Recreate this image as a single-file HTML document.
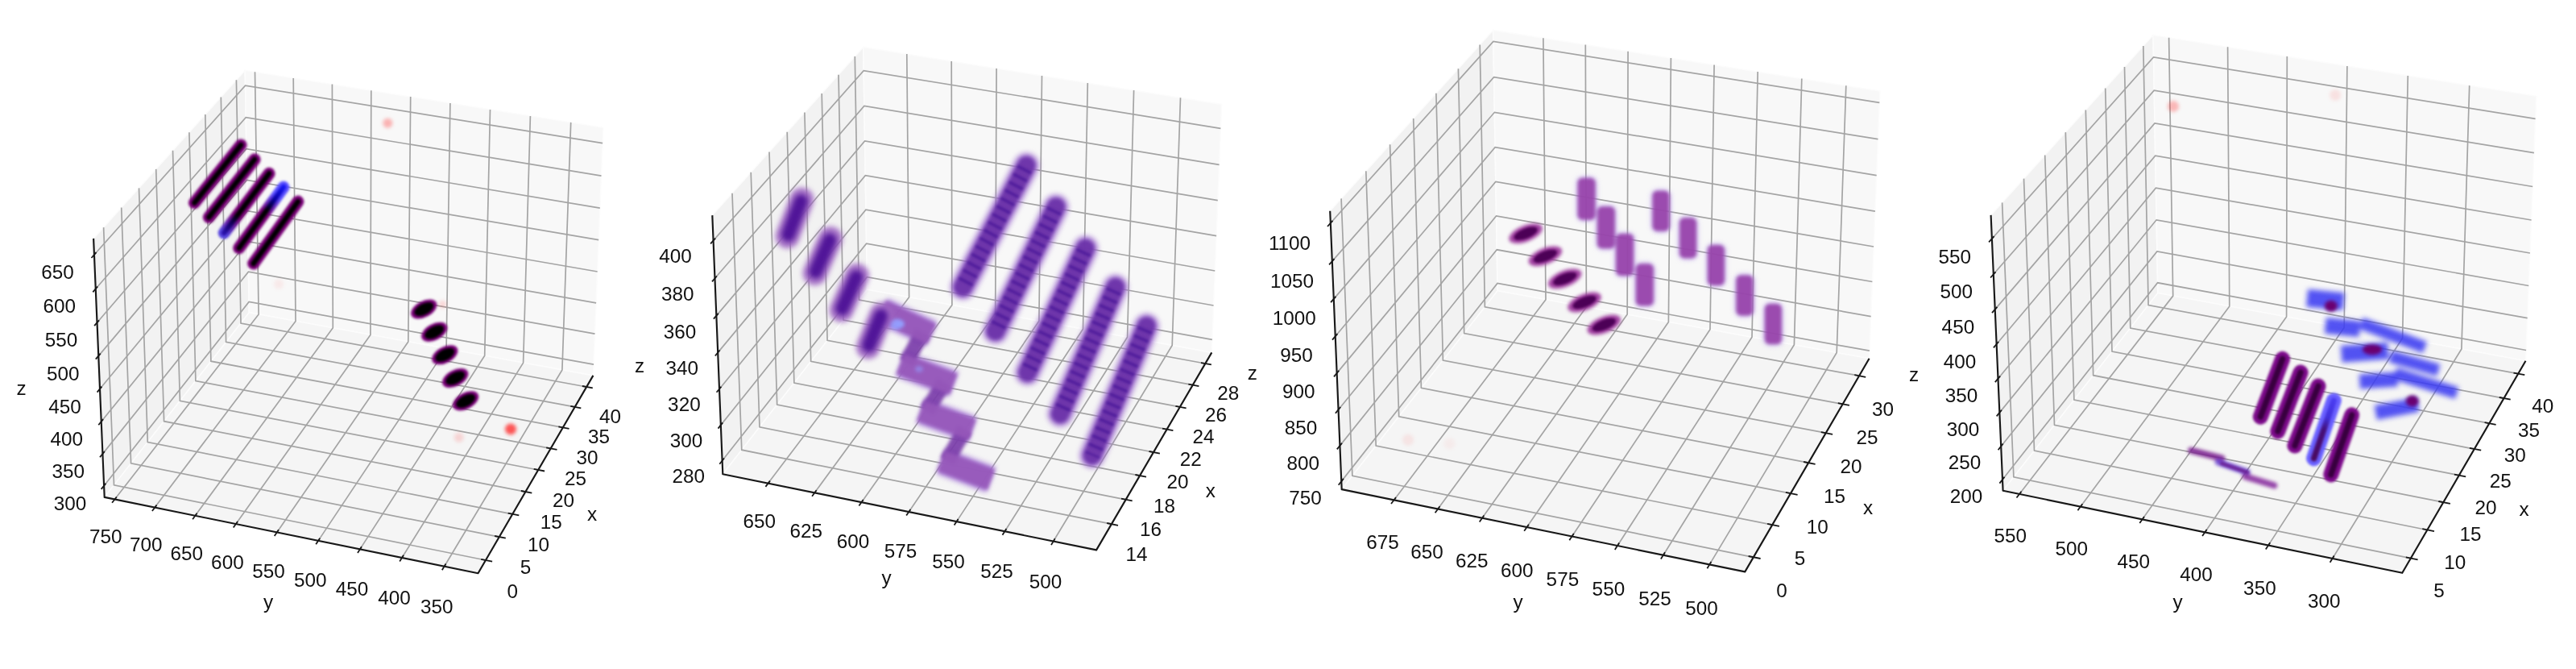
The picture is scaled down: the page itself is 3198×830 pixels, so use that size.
<!DOCTYPE html>
<html><head><meta charset="utf-8"><title>3D scatter panels</title>
<style>
html,body{margin:0;padding:0;background:#fff;}
svg{display:block}
text{font-family:"Liberation Sans",sans-serif;font-size:24.8px;fill:#111;text-anchor:middle}
.g{fill:none;stroke:#a4a4a4;stroke-width:1.7}
.a{fill:none;stroke:#181818;stroke-width:2.15;stroke-linejoin:round}
.t{stroke:#181818;stroke-width:1.8}
</style></head><body>
<svg width="3198" height="830" viewBox="0 0 3198 830">
<defs>
<filter id="b0" color-interpolation-filters="sRGB" x="-5%" y="-5%" width="110%" height="110%"><feGaussianBlur stdDeviation="0.7"/></filter>
<filter id="ba" color-interpolation-filters="sRGB" x="-5%" y="-5%" width="110%" height="110%"><feGaussianBlur stdDeviation="0.6"/></filter>
<filter id="bt" color-interpolation-filters="sRGB" x="-5%" y="-5%" width="110%" height="110%"><feGaussianBlur stdDeviation="0.7"/></filter>
<filter id="b1" color-interpolation-filters="sRGB" x="-5%" y="-5%" width="110%" height="110%"><feGaussianBlur stdDeviation="1.4"/></filter>
<filter id="b15" color-interpolation-filters="sRGB" x="-5%" y="-5%" width="110%" height="110%"><feGaussianBlur stdDeviation="1.7"/></filter>
<filter id="b2" color-interpolation-filters="sRGB" x="-5%" y="-5%" width="110%" height="110%"><feGaussianBlur stdDeviation="2.2"/></filter>
<filter id="b3" color-interpolation-filters="sRGB" x="-5%" y="-5%" width="110%" height="110%"><feGaussianBlur stdDeviation="3.4"/></filter>

<linearGradient id="g3" gradientUnits="userSpaceOnUse" x1="278.2" y1="289" x2="334.1" y2="215.2"><stop offset="0" stop-color="#2810a8"/><stop offset="0.16" stop-color="#14005e"/><stop offset="0.3" stop-color="#000"/></linearGradient>
<linearGradient id="g3h" gradientUnits="userSpaceOnUse" x1="278.2" y1="289" x2="334.1" y2="215.2"><stop offset="0" stop-color="#5a48e0"/><stop offset="0.28" stop-color="#7a0078"/></linearGradient>
<linearGradient id="g4" gradientUnits="userSpaceOnUse" x1="296.7" y1="307.8" x2="352" y2="232.2"><stop offset="0.62" stop-color="#000"/><stop offset="0.8" stop-color="#0800a0"/><stop offset="1" stop-color="#1616f0"/></linearGradient>
<linearGradient id="g4h" gradientUnits="userSpaceOnUse" x1="296.7" y1="307.8" x2="352" y2="232.2"><stop offset="0.58" stop-color="#7a0078"/><stop offset="0.85" stop-color="#5a50ff"/></linearGradient>
<linearGradient id="p4s4" gradientUnits="userSpaceOnUse" x1="2897.3" y1="497" x2="2872.6" y2="568.7"><stop offset="0" stop-color="#4a3cf0"/><stop offset="0.3" stop-color="#4030d8"/><stop offset="0.5" stop-color="#45107a"/><stop offset="1" stop-color="#4a0a60"/></linearGradient>

</defs>
<rect width="3198" height="830" fill="#fff"/>
<g filter="url(#b0)">
<polygon points="129.7,616.9 309.3,387.8 304.2,87.3 116.1,295.9" fill="#f2f2f2" stroke="#fcfcfc" stroke-width="1.5"/>
<polygon points="309.3,387.8 736.4,465.9 748.9,158.3 304.2,87.3" fill="#f8f8f8" stroke="#fcfcfc" stroke-width="1.5"/>
<polygon points="129.7,616.9 593.5,711.2 736.4,465.9 309.3,387.8" fill="#f5f5f5" stroke="#fcfcfc" stroke-width="1.5"/>
<polyline class="g" points="602.9,695.0 141.5,601.9 128.6,282.1"/>
<polyline class="g" points="619.8,666.1 162.6,574.9 150.7,257.5"/>
<polyline class="g" points="636.3,637.8 183.3,548.5 172.5,233.4"/>
<polyline class="g" points="652.4,610.1 203.6,522.7 193.7,209.9"/>
<polyline class="g" points="668.2,583.0 223.4,497.3 214.5,186.8"/>
<polyline class="g" points="683.7,556.4 242.9,472.5 234.9,164.2"/>
<polyline class="g" points="698.9,530.4 261.9,448.2 254.8,142.1"/>
<polyline class="g" points="713.7,504.9 280.6,424.4 274.3,120.5"/>
<polyline class="g" points="728.3,480.0 299.0,401.0 293.4,99.2"/>
<polyline class="g" points="551.6,702.7 697.9,458.9 708.7,151.9"/>
<polyline class="g" points="499.0,692.0 649.6,450.1 658.4,143.9"/>
<polyline class="g" points="446.9,681.4 601.7,441.3 608.5,135.9"/>
<polyline class="g" points="395.1,670.9 554.1,432.6 558.9,128.0"/>
<polyline class="g" points="343.8,660.5 506.8,423.9 509.7,120.1"/>
<polyline class="g" points="292.9,650.1 459.9,415.4 460.8,112.3"/>
<polyline class="g" points="242.3,639.8 413.3,406.8 412.4,104.6"/>
<polyline class="g" points="192.2,629.6 367.0,398.4 364.2,96.9"/>
<polyline class="g" points="142.4,619.5 321.1,390.0 316.5,89.3"/>
<polyline class="g" points="129.1,602.7 309.1,374.4 737.0,452.2"/>
<polyline class="g" points="127.4,563.1 308.4,337.2 738.5,414.2"/>
<polyline class="g" points="125.7,523.0 307.8,299.7 740.1,375.8"/>
<polyline class="g" points="124.0,482.5 307.1,261.7 741.7,337.0"/>
<polyline class="g" points="122.3,441.6 306.5,223.4 743.2,297.7"/>
<polyline class="g" points="120.5,400.2 305.8,184.7 744.8,258.1"/>
<polyline class="g" points="118.8,358.3 305.2,145.6 746.5,218.1"/>
<polyline class="g" points="117.0,316.0 304.5,106.1 748.1,177.6"/>
</g>
<g filter="url(#b0)">
<polygon points="897.3,588.2 1076.5,359.3 1071.7,58.5 884.3,267.1" fill="#f2f2f2" stroke="#fcfcfc" stroke-width="1.5"/>
<polygon points="1076.5,359.3 1504.3,437.4 1516.6,129.5 1071.7,58.5" fill="#f8f8f8" stroke="#fcfcfc" stroke-width="1.5"/>
<polygon points="897.3,588.2 1361.1,682.4 1504.3,437.4 1076.5,359.3" fill="#f5f5f5" stroke="#fcfcfc" stroke-width="1.5"/>
<polyline class="g" points="1379.9,650.2 920.8,558.2 909.0,239.7"/>
<polyline class="g" points="1397.7,619.8 943.0,529.9 932.2,213.8"/>
<polyline class="g" points="1415.0,590.1 964.7,502.1 955.0,188.5"/>
<polyline class="g" points="1432.0,561.0 985.9,475.0 977.2,163.8"/>
<polyline class="g" points="1448.6,532.6 1006.7,448.4 998.9,139.6"/>
<polyline class="g" points="1464.9,504.8 1027.1,422.4 1020.2,115.9"/>
<polyline class="g" points="1480.8,477.7 1047.0,397.0 1041.0,92.7"/>
<polyline class="g" points="1496.3,451.0 1066.5,372.0 1061.3,70.1"/>
<polyline class="g" points="1307.7,671.5 1455.2,428.5 1465.5,121.3"/>
<polyline class="g" points="1247.4,659.3 1399.6,418.3 1407.6,112.1"/>
<polyline class="g" points="1187.5,647.1 1344.5,408.2 1350.3,103.0"/>
<polyline class="g" points="1128.3,635.1 1289.9,398.3 1293.5,93.9"/>
<polyline class="g" points="1069.5,623.2 1235.7,388.4 1237.1,84.9"/>
<polyline class="g" points="1011.3,611.3 1181.9,378.5 1181.2,76.0"/>
<polyline class="g" points="953.6,599.6 1128.6,368.8 1125.8,67.1"/>
<polyline class="g" points="896.6,571.5 1076.3,343.6 1504.9,421.4"/>
<polyline class="g" points="894.8,527.4 1075.6,302.1 1506.6,379.0"/>
<polyline class="g" points="893.0,482.7 1074.9,260.1 1508.3,336.0"/>
<polyline class="g" points="891.2,437.4 1074.3,217.7 1510.1,292.6"/>
<polyline class="g" points="889.4,391.6 1073.6,174.9 1511.8,248.7"/>
<polyline class="g" points="887.5,345.3 1072.9,131.5 1513.6,204.3"/>
<polyline class="g" points="885.6,298.4 1072.2,87.7 1515.4,159.4"/>
</g>
<g filter="url(#b0)">
<polygon points="1665.7,607.1 1859.1,360.8 1853.6,37.4 1651.2,261.7" fill="#f2f2f2" stroke="#fcfcfc" stroke-width="1.5"/>
<polygon points="1859.1,360.8 2320.6,444.8 2333.9,112.9 1853.6,37.4" fill="#f8f8f8" stroke="#fcfcfc" stroke-width="1.5"/>
<polygon points="1665.7,607.1 2166.3,709.4 2320.6,444.8 1859.1,360.8" fill="#f5f5f5" stroke="#fcfcfc" stroke-width="1.5"/>
<polyline class="g" points="2176.8,691.3 1678.9,590.4 1665.1,246.4"/>
<polyline class="g" points="2200.2,651.1 1708.2,553.1 1695.8,212.3"/>
<polyline class="g" points="2223.0,612.1 1736.7,516.8 1725.6,179.2"/>
<polyline class="g" points="2245.1,574.1 1764.4,481.4 1754.7,147.0"/>
<polyline class="g" points="2266.7,537.2 1791.4,447.0 1782.9,115.7"/>
<polyline class="g" points="2287.6,501.3 1817.7,413.5 1810.4,85.2"/>
<polyline class="g" points="2308.1,466.2 1843.4,380.8 1837.2,55.6"/>
<polyline class="g" points="2122.3,700.4 2280.2,437.5 2291.8,106.3"/>
<polyline class="g" points="2064.9,688.7 2227.4,427.8 2236.8,97.6"/>
<polyline class="g" points="2008.0,677.0 2175.0,418.3 2182.2,89.1"/>
<polyline class="g" points="1951.5,665.5 2123.0,408.8 2128.1,80.5"/>
<polyline class="g" points="1895.5,654.1 2071.4,399.4 2074.4,72.1"/>
<polyline class="g" points="1840.0,642.7 2020.2,390.1 2021.1,63.7"/>
<polyline class="g" points="1785.0,631.5 1969.4,380.9 1968.3,55.4"/>
<polyline class="g" points="1730.5,620.4 1919.0,371.7 1915.9,47.2"/>
<polyline class="g" points="1665.3,597.1 1859.0,351.4 2320.9,435.2"/>
<polyline class="g" points="1663.5,552.9 1858.3,309.8 2322.7,392.6"/>
<polyline class="g" points="1661.6,508.2 1857.5,267.9 2324.4,349.5"/>
<polyline class="g" points="1659.7,462.9 1856.8,225.5 2326.1,306.0"/>
<polyline class="g" points="1657.7,417.2 1856.1,182.6 2327.9,262.1"/>
<polyline class="g" points="1655.8,370.9 1855.4,139.3 2329.7,217.6"/>
<polyline class="g" points="1653.8,324.1 1854.6,95.6 2331.5,172.7"/>
<polyline class="g" points="1651.8,276.7 1853.9,51.4 2333.3,127.3"/>
</g>
<g filter="url(#b0)">
<polygon points="2486.6,608.7 2678.8,363.6 2673.0,43.6 2471.6,266.9" fill="#f2f2f2" stroke="#fcfcfc" stroke-width="1.5"/>
<polygon points="2678.8,363.6 3135.5,447.7 3148.8,119.3 2673.0,43.6" fill="#f8f8f8" stroke="#fcfcfc" stroke-width="1.5"/>
<polygon points="2486.6,608.7 2982.3,710.8 3135.5,447.7 2678.8,363.6" fill="#f5f5f5" stroke="#fcfcfc" stroke-width="1.5"/>
<polyline class="g" points="2992.9,692.6 2499.9,591.8 2485.6,251.4"/>
<polyline class="g" points="3013.4,657.5 2525.5,559.1 2512.5,221.6"/>
<polyline class="g" points="3033.3,623.2 2550.5,527.3 2538.7,192.5"/>
<polyline class="g" points="3052.8,589.7 2574.9,496.1 2564.3,164.1"/>
<polyline class="g" points="3071.8,557.1 2598.7,465.7 2589.3,136.4"/>
<polyline class="g" points="3090.4,525.2 2622.0,436.0 2613.7,109.4"/>
<polyline class="g" points="3108.5,494.1 2644.8,407.0 2637.5,82.9"/>
<polyline class="g" points="3126.2,463.6 2667.1,378.6 2660.8,57.1"/>
<polyline class="g" points="2895.6,693.0 3055.9,433.0 3065.7,106.1"/>
<polyline class="g" points="2816.0,676.6 2982.6,419.5 2989.3,93.9"/>
<polyline class="g" points="2737.3,660.4 2910.2,406.2 2913.9,81.9"/>
<polyline class="g" points="2659.6,644.3 2838.6,393.0 2839.3,70.1"/>
<polyline class="g" points="2582.9,628.5 2767.8,380.0 2765.6,58.3"/>
<polyline class="g" points="2507.0,612.9 2697.7,367.1 2692.6,46.7"/>
<polyline class="g" points="2486.0,595.0 2678.6,350.8 3136.1,434.5"/>
<polyline class="g" points="2484.2,553.7 2677.9,312.0 3137.7,394.7"/>
<polyline class="g" points="2482.4,511.9 2677.1,272.8 3139.3,354.5"/>
<polyline class="g" points="2480.5,469.7 2676.4,233.2 3140.9,314.0"/>
<polyline class="g" points="2478.6,427.0 2675.7,193.2 3142.6,273.0"/>
<polyline class="g" points="2476.7,383.9 2675.0,152.9 3144.2,231.5"/>
<polyline class="g" points="2474.8,340.3 2674.2,112.1 3145.9,189.7"/>
<polyline class="g" points="2472.9,296.2 2673.5,70.9 3147.6,147.4"/>
</g>
<g><g filter="url(#b15)"><rect x="200" y="140" width="220" height="230" fill="none"/><line x1="241.4" y1="251.6" x2="299.1" y2="179.9" stroke="#7a0078" stroke-width="15" stroke-linecap="round" opacity="1" /><line x1="259.3" y1="269.6" x2="316.1" y2="197.8" stroke="#7a0078" stroke-width="15" stroke-linecap="round" opacity="1" /><line x1="278.2" y1="289.0" x2="334.1" y2="215.2" stroke="url(#g3h)" stroke-width="15" stroke-linecap="round" opacity="1" /><line x1="296.7" y1="307.8" x2="352.0" y2="232.2" stroke="url(#g4h)" stroke-width="15" stroke-linecap="round" opacity="1" /><line x1="314.6" y1="327.0" x2="369.9" y2="250.1" stroke="#7a0078" stroke-width="15" stroke-linecap="round" opacity="1" /></g>
<g filter="url(#b1)"><rect x="200" y="140" width="220" height="230" fill="none"/><line x1="241.4" y1="251.6" x2="299.1" y2="179.9" stroke="#000" stroke-width="6.5" stroke-linecap="round" opacity="1" /><line x1="259.3" y1="269.6" x2="316.1" y2="197.8" stroke="#000" stroke-width="6.5" stroke-linecap="round" opacity="1" /><line x1="278.2" y1="289.0" x2="334.1" y2="215.2" stroke="url(#g3)" stroke-width="6.5" stroke-linecap="round" opacity="1" /><line x1="296.7" y1="307.8" x2="352.0" y2="232.2" stroke="url(#g4)" stroke-width="6.5" stroke-linecap="round" opacity="1" /><line x1="314.6" y1="327.0" x2="369.9" y2="250.1" stroke="#000" stroke-width="6.5" stroke-linecap="round" opacity="1" /></g>
<g filter="url(#b15)"><rect x="480" y="340" width="150" height="210" fill="none"/><ellipse cx="526.3" cy="383.5" rx="17.5" ry="10.0" transform="rotate(-28 526.3 383.5)" fill="#7a0078" opacity="1"/><ellipse cx="539.2" cy="411.9" rx="17.5" ry="10.0" transform="rotate(-28 539.2 411.9)" fill="#7a0078" opacity="1"/><ellipse cx="552.3" cy="440.3" rx="17.5" ry="10.0" transform="rotate(-28 552.3 440.3)" fill="#7a0078" opacity="1"/><ellipse cx="565.2" cy="469.0" rx="17.5" ry="10.0" transform="rotate(-28 565.2 469.0)" fill="#7a0078" opacity="1"/><ellipse cx="578.1" cy="497.4" rx="17.5" ry="10.0" transform="rotate(-28 578.1 497.4)" fill="#7a0078" opacity="1"/></g>
<g filter="url(#b1)"><rect x="480" y="340" width="150" height="210" fill="none"/><ellipse cx="526.3" cy="383.5" rx="13.0" ry="6.8" transform="rotate(-28 526.3 383.5)" fill="#000" opacity="1"/><ellipse cx="539.2" cy="411.9" rx="13.0" ry="6.8" transform="rotate(-28 539.2 411.9)" fill="#000" opacity="1"/><ellipse cx="552.3" cy="440.3" rx="13.0" ry="6.8" transform="rotate(-28 552.3 440.3)" fill="#000" opacity="1"/><ellipse cx="565.2" cy="469.0" rx="13.0" ry="6.8" transform="rotate(-28 565.2 469.0)" fill="#000" opacity="1"/><ellipse cx="578.1" cy="497.4" rx="13.0" ry="6.8" transform="rotate(-28 578.1 497.4)" fill="#000" opacity="1"/></g>
<g filter="url(#b2)"><rect x="300" y="100" width="400" height="500" fill="none"/><circle cx="634" cy="532.4" r="7" fill="#ff2020" opacity="0.75"/><circle cx="569.7" cy="542.8" r="6" fill="#ff4040" opacity="0.18"/><circle cx="549.4" cy="377.8" r="5" fill="#ff4040" opacity="0.18"/><circle cx="481.3" cy="152.7" r="6" fill="#ff3030" opacity="0.35"/><circle cx="346" cy="352.6" r="6" fill="#ff4040" opacity="0.08"/></g>
<g filter="url(#b3)"><rect x="1050" y="340" width="230" height="310" fill="none"/><line x1="1094.4" y1="385.3" x2="1156.6" y2="414.4" stroke="#ab80da" stroke-width="34" stroke-linecap="butt" opacity="0.9" /><line x1="1117.7" y1="451.3" x2="1183.8" y2="476.6" stroke="#ab80da" stroke-width="34" stroke-linecap="butt" opacity="0.9" /><line x1="1143.0" y1="509.6" x2="1207.1" y2="532.9" stroke="#ab80da" stroke-width="34" stroke-linecap="butt" opacity="0.9" /><line x1="1168.3" y1="571.8" x2="1230.4" y2="595.1" stroke="#ab80da" stroke-width="34" stroke-linecap="butt" opacity="0.9" /></g>
<g filter="url(#b2)"><rect x="1050" y="340" width="230" height="310" fill="none"/><line x1="1145.0" y1="412.3" x2="1125.4" y2="449.6" stroke="#7a3caa" stroke-width="19" stroke-linecap="butt" opacity="0.92" /><line x1="1172.2" y1="474.5" x2="1150.7" y2="509.8" stroke="#7a3caa" stroke-width="19" stroke-linecap="butt" opacity="0.92" /><line x1="1197.5" y1="532.8" x2="1176.0" y2="572.0" stroke="#7a3caa" stroke-width="19" stroke-linecap="butt" opacity="0.92" /></g>
<g filter="url(#b2)"><rect x="1050" y="340" width="230" height="310" fill="none"/><line x1="1094.4" y1="385.3" x2="1156.6" y2="414.4" stroke="#9658ba" stroke-width="27" stroke-linecap="butt" opacity="0.93" /><line x1="1117.7" y1="451.3" x2="1183.8" y2="476.6" stroke="#9658ba" stroke-width="27" stroke-linecap="butt" opacity="0.93" /><line x1="1143.0" y1="509.6" x2="1207.1" y2="532.9" stroke="#9658ba" stroke-width="27" stroke-linecap="butt" opacity="0.93" /><line x1="1168.3" y1="571.8" x2="1230.4" y2="595.1" stroke="#9658ba" stroke-width="27" stroke-linecap="butt" opacity="0.93" /><ellipse cx="1113" cy="402" rx="10" ry="6.5" fill="#93a0ff" opacity="0.95"/><ellipse cx="1141" cy="458" rx="5" ry="4" fill="#93a0ff" opacity="0.55"/></g>
<g filter="url(#b3)"><rect x="940" y="200" width="200" height="280" fill="none"/><line x1="977.6" y1="293.3" x2="995.4" y2="247.8" stroke="#a068c4" stroke-width="30" stroke-linecap="round" opacity="0.9" /><line x1="1011.6" y1="339.0" x2="1031.0" y2="296.0" stroke="#a068c4" stroke-width="30" stroke-linecap="round" opacity="0.9" /><line x1="1044.6" y1="384.7" x2="1064.0" y2="341.8" stroke="#a068c4" stroke-width="30" stroke-linecap="round" opacity="0.9" /><line x1="1077.7" y1="430.5" x2="1094.5" y2="390.0" stroke="#a068c4" stroke-width="30" stroke-linecap="round" opacity="0.9" /></g>
<g filter="url(#b3)"><rect x="940" y="200" width="200" height="280" fill="none"/><line x1="978.6" y1="291.3" x2="994.4" y2="249.8" stroke="#4c1096" stroke-width="17" stroke-linecap="round" opacity="0.95" /><line x1="1012.6" y1="337.0" x2="1030.0" y2="298.0" stroke="#4c1096" stroke-width="17" stroke-linecap="round" opacity="0.95" /><line x1="1045.6" y1="382.7" x2="1063.0" y2="343.8" stroke="#4c1096" stroke-width="17" stroke-linecap="round" opacity="0.95" /><line x1="1078.7" y1="428.5" x2="1093.5" y2="392.0" stroke="#4c1096" stroke-width="17" stroke-linecap="round" opacity="0.95" /></g>
<g filter="url(#b3)"><rect x="1160" y="160" width="310" height="450" fill="none"/><line x1="1274.3" y1="205.3" x2="1195.3" y2="356.3" stroke="#a070d0" stroke-width="31" stroke-linecap="round" opacity="0.85" /><line x1="1311.0" y1="256.7" x2="1235.8" y2="410.9" stroke="#a070d0" stroke-width="31" stroke-linecap="round" opacity="0.85" /><line x1="1347.6" y1="308.1" x2="1275.6" y2="462.3" stroke="#a070d0" stroke-width="31" stroke-linecap="round" opacity="0.85" /><line x1="1384.8" y1="356.3" x2="1316.1" y2="513.7" stroke="#a070d0" stroke-width="31" stroke-linecap="round" opacity="0.85" /><line x1="1423.4" y1="404.5" x2="1355.9" y2="565.1" stroke="#a070d0" stroke-width="31" stroke-linecap="round" opacity="0.85" /></g>
<g filter="url(#b2)"><rect x="1160" y="160" width="310" height="450" fill="none"/><line x1="1274.3" y1="205.3" x2="1195.3" y2="356.3" stroke="#6a30a8" stroke-width="22" stroke-linecap="round" opacity="0.92" /><line x1="1311.0" y1="256.7" x2="1235.8" y2="410.9" stroke="#6a30a8" stroke-width="22" stroke-linecap="round" opacity="0.92" /><line x1="1347.6" y1="308.1" x2="1275.6" y2="462.3" stroke="#6a30a8" stroke-width="22" stroke-linecap="round" opacity="0.92" /><line x1="1384.8" y1="356.3" x2="1316.1" y2="513.7" stroke="#6a30a8" stroke-width="22" stroke-linecap="round" opacity="0.92" /><line x1="1423.4" y1="404.5" x2="1355.9" y2="565.1" stroke="#6a30a8" stroke-width="22" stroke-linecap="round" opacity="0.92" /></g>
<g filter="url(#b15)"><rect x="1160" y="160" width="310" height="450" fill="none"/><line x1="1274.3" y1="205.3" x2="1195.3" y2="356.3" stroke="#380890" stroke-width="19" stroke-linecap="butt" opacity="0.55" stroke-dasharray="3.5 7.7" stroke-dashoffset="-4"/><line x1="1311.0" y1="256.7" x2="1235.8" y2="410.9" stroke="#380890" stroke-width="19" stroke-linecap="butt" opacity="0.55" stroke-dasharray="3.5 7.7" stroke-dashoffset="-4"/><line x1="1347.6" y1="308.1" x2="1275.6" y2="462.3" stroke="#380890" stroke-width="19" stroke-linecap="butt" opacity="0.55" stroke-dasharray="3.5 7.7" stroke-dashoffset="-4"/><line x1="1384.8" y1="356.3" x2="1316.1" y2="513.7" stroke="#380890" stroke-width="19" stroke-linecap="butt" opacity="0.55" stroke-dasharray="3.5 7.7" stroke-dashoffset="-4"/><line x1="1423.4" y1="404.5" x2="1355.9" y2="565.1" stroke="#380890" stroke-width="19" stroke-linecap="butt" opacity="0.55" stroke-dasharray="3.5 7.7" stroke-dashoffset="-4"/></g>
<g filter="url(#b2)"><rect x="1850" y="250" width="200" height="200" fill="none"/><ellipse cx="1894.1" cy="289.7" rx="22.0" ry="10.0" transform="rotate(-22 1894.1 289.7)" fill="#a040a0" opacity="1"/><ellipse cx="1918.4" cy="317.8" rx="22.0" ry="10.0" transform="rotate(-22 1918.4 317.8)" fill="#a040a0" opacity="1"/><ellipse cx="1942.7" cy="345.8" rx="22.0" ry="10.0" transform="rotate(-22 1942.7 345.8)" fill="#a040a0" opacity="1"/><ellipse cx="1967.0" cy="375.0" rx="22.0" ry="10.0" transform="rotate(-22 1967.0 375.0)" fill="#a040a0" opacity="1"/><ellipse cx="1991.3" cy="403.0" rx="22.0" ry="10.0" transform="rotate(-22 1991.3 403.0)" fill="#a040a0" opacity="1"/></g>
<g filter="url(#b1)"><rect x="1850" y="250" width="200" height="200" fill="none"/><ellipse cx="1894.1" cy="289.7" rx="15.5" ry="6.2" transform="rotate(-22 1894.1 289.7)" fill="#4c0056" opacity="1"/><ellipse cx="1918.4" cy="317.8" rx="15.5" ry="6.2" transform="rotate(-22 1918.4 317.8)" fill="#4c0056" opacity="1"/><ellipse cx="1942.7" cy="345.8" rx="15.5" ry="6.2" transform="rotate(-22 1942.7 345.8)" fill="#4c0056" opacity="1"/><ellipse cx="1967.0" cy="375.0" rx="15.5" ry="6.2" transform="rotate(-22 1967.0 375.0)" fill="#4c0056" opacity="1"/><ellipse cx="1991.3" cy="403.0" rx="15.5" ry="6.2" transform="rotate(-22 1991.3 403.0)" fill="#4c0056" opacity="1"/></g>
<g filter="url(#b3)"><rect x="1930" y="200" width="320" height="250" fill="none"/><rect x="1956.6" y="218.7" width="26" height="56" rx="9" fill="#b9a0f0" opacity="0.55"/><rect x="1980.9" y="254.2" width="26" height="56" rx="9" fill="#b9a0f0" opacity="0.55"/><rect x="2004.1" y="287.9" width="26" height="56" rx="9" fill="#b9a0f0" opacity="0.55"/><rect x="2028.8" y="325.3" width="26" height="56" rx="9" fill="#b9a0f0" opacity="0.55"/><rect x="2049.5" y="234.7" width="25" height="54" rx="9" fill="#b9a0f0" opacity="0.55"/><rect x="2083.1" y="268.3" width="25" height="54" rx="9" fill="#b9a0f0" opacity="0.55"/><rect x="2117.9" y="302.0" width="25" height="54" rx="9" fill="#b9a0f0" opacity="0.55"/><rect x="2153.4" y="339.4" width="25" height="54" rx="9" fill="#b9a0f0" opacity="0.55"/><rect x="2188.9" y="374.9" width="25" height="54" rx="9" fill="#b9a0f0" opacity="0.55"/></g>
<g filter="url(#b2)"><rect x="1930" y="200" width="320" height="250" fill="none"/><rect x="1958.6" y="220.7" width="22" height="52" rx="6" fill="#9640a8" opacity="0.92"/><rect x="1982.9" y="256.2" width="22" height="52" rx="6" fill="#9640a8" opacity="0.92"/><rect x="2006.1" y="289.9" width="22" height="52" rx="6" fill="#9640a8" opacity="0.92"/><rect x="2030.8" y="327.3" width="22" height="52" rx="6" fill="#9640a8" opacity="0.92"/><rect x="2051.5" y="236.7" width="21" height="50" rx="6" fill="#9640a8" opacity="0.92"/><rect x="2085.1" y="270.3" width="21" height="50" rx="6" fill="#9640a8" opacity="0.92"/><rect x="2119.9" y="304.0" width="21" height="50" rx="6" fill="#9640a8" opacity="0.92"/><rect x="2155.4" y="341.4" width="21" height="50" rx="6" fill="#9640a8" opacity="0.92"/><rect x="2190.9" y="376.9" width="21" height="50" rx="6" fill="#9640a8" opacity="0.92"/></g>
<g filter="url(#b2)"><rect x="1700" y="500" width="150" height="100" fill="none"/><circle cx="1748.1" cy="545.7" r="7" fill="#ff5050" opacity="0.1"/><circle cx="1799.4" cy="550.4" r="7" fill="#ff5050" opacity="0.06"/></g>
<g filter="url(#b15)"><rect x="2780" y="420" width="170" height="200" fill="none"/><line x1="2833.6" y1="445.4" x2="2806.3" y2="517.1" stroke="#7c0a8a" stroke-width="19" stroke-linecap="round" opacity="1" /><line x1="2856.1" y1="462.0" x2="2827.8" y2="535.1" stroke="#7c0a8a" stroke-width="19" stroke-linecap="round" opacity="1" /><line x1="2878.0" y1="479.0" x2="2848.9" y2="553.0" stroke="#7c0a8a" stroke-width="19" stroke-linecap="round" opacity="1" /><line x1="2897.3" y1="497.0" x2="2872.6" y2="568.7" stroke="#6a60ff" stroke-width="19" stroke-linecap="round" opacity="1" /><line x1="2919.7" y1="514.9" x2="2893.7" y2="588.9" stroke="#7c0a8a" stroke-width="19" stroke-linecap="round" opacity="1" /></g>
<g filter="url(#b1)"><rect x="2780" y="420" width="170" height="200" fill="none"/><line x1="2833.6" y1="445.4" x2="2806.3" y2="517.1" stroke="#38003e" stroke-width="7.5" stroke-linecap="round" opacity="1" /><line x1="2856.1" y1="462.0" x2="2827.8" y2="535.1" stroke="#38003e" stroke-width="7.5" stroke-linecap="round" opacity="1" /><line x1="2878.0" y1="479.0" x2="2848.9" y2="553.0" stroke="#38003e" stroke-width="7.5" stroke-linecap="round" opacity="1" /><line x1="2897.3" y1="497.0" x2="2872.6" y2="568.7" stroke="url(#p4s4)" stroke-width="7.5" stroke-linecap="round" opacity="1" /><line x1="2919.7" y1="514.9" x2="2893.7" y2="588.9" stroke="#38003e" stroke-width="7.5" stroke-linecap="round" opacity="1" /></g>
<g filter="url(#b2)"><rect x="2700" y="540" width="150" height="80" fill="none"/><line x1="2720.2" y1="558.8" x2="2758.3" y2="568.7" stroke="#7a2090" stroke-width="8" stroke-linecap="round" opacity="0.9" /><line x1="2753.8" y1="573.2" x2="2789.7" y2="585.7" stroke="#6a40d0" stroke-width="8" stroke-linecap="round" opacity="0.9" /><line x1="2787.4" y1="591.1" x2="2823.3" y2="602.3" stroke="#8a30a0" stroke-width="8" stroke-linecap="round" opacity="0.9" /></g>
<g filter="url(#b1)"><rect x="2700" y="540" width="150" height="80" fill="none"/><line x1="2758.0" y1="575.0" x2="2790.0" y2="586.0" stroke="#6a1a8a" stroke-width="4" stroke-linecap="round" opacity="0.8" /></g>
<g filter="url(#b3)"><rect x="2840" y="340" width="240" height="200" fill="none"/><line x1="2864.1" y1="369.8" x2="2909.6" y2="374.1" stroke="#3c3cf2" stroke-width="22" stroke-linecap="butt" opacity="0.88" /><line x1="2886.8" y1="403.9" x2="2929.4" y2="408.1" stroke="#3c3cf2" stroke-width="20" stroke-linecap="butt" opacity="0.88" /><line x1="2906.7" y1="439.4" x2="2964.9" y2="435.1" stroke="#3c3cf2" stroke-width="21" stroke-linecap="butt" opacity="0.88" /><line x1="2929.4" y1="473.4" x2="2976.3" y2="470.6" stroke="#3c3cf2" stroke-width="18" stroke-linecap="butt" opacity="0.88" /><line x1="2949.3" y1="511.8" x2="3001.8" y2="501.8" stroke="#3c3cf2" stroke-width="18" stroke-linecap="butt" opacity="0.88" /><line x1="2930.9" y1="401.0" x2="3010.4" y2="430.9" stroke="#3c3cf2" stroke-width="15" stroke-linecap="butt" opacity="0.88" /><line x1="2967.8" y1="442.2" x2="3027.4" y2="459.3" stroke="#3c3cf2" stroke-width="15" stroke-linecap="butt" opacity="0.88" /><line x1="2973.4" y1="463.5" x2="3050.1" y2="487.6" stroke="#3c3cf2" stroke-width="15" stroke-linecap="butt" opacity="0.88" /></g>
<g filter="url(#b2)"><rect x="2840" y="340" width="240" height="200" fill="none"/><ellipse cx="2893.9" cy="379.8" rx="8.0" ry="7.0" transform="rotate(0 2893.9 379.8)" fill="#6a0070" opacity="1"/><ellipse cx="2945.1" cy="433.7" rx="12.0" ry="6.5" transform="rotate(0 2945.1 433.7)" fill="#6a0070" opacity="1"/><ellipse cx="2994.7" cy="497.6" rx="8.0" ry="7.0" transform="rotate(0 2994.7 497.6)" fill="#6a0070" opacity="1"/></g>
<g filter="url(#b2)"><rect x="2650" y="80" width="300" height="100" fill="none"/><circle cx="2698" cy="131.9" r="7" fill="#ff3030" opacity="0.32"/><circle cx="2899.2" cy="118" r="7" fill="#ff4040" opacity="0.12"/></g></g>
<g filter="url(#ba)">
<polyline class="a" points="116.1,295.9 129.7,616.9 593.5,711.2 736.4,465.9"/>
<line class="t" x1="611.1" y1="696.7" x2="597.2" y2="693.9"/>
<line class="t" x1="627.8" y1="667.7" x2="614.1" y2="665.0"/>
<line class="t" x1="644.3" y1="639.4" x2="630.7" y2="636.7"/>
<line class="t" x1="660.3" y1="611.6" x2="646.9" y2="609.0"/>
<line class="t" x1="676.1" y1="584.5" x2="662.7" y2="581.9"/>
<line class="t" x1="691.5" y1="557.9" x2="678.2" y2="555.4"/>
<line class="t" x1="706.5" y1="531.9" x2="693.4" y2="529.4"/>
<line class="t" x1="721.3" y1="506.4" x2="708.3" y2="503.9"/>
<line class="t" x1="735.8" y1="481.4" x2="722.9" y2="479.0"/>
<line class="t" x1="548.8" y1="707.3" x2="553.5" y2="699.5"/>
<line class="t" x1="496.2" y1="696.5" x2="501.0" y2="688.8"/>
<line class="t" x1="444.0" y1="685.9" x2="448.9" y2="678.2"/>
<line class="t" x1="392.2" y1="675.3" x2="397.2" y2="667.7"/>
<line class="t" x1="340.7" y1="664.9" x2="345.9" y2="657.3"/>
<line class="t" x1="289.7" y1="654.5" x2="295.1" y2="647.0"/>
<line class="t" x1="239.1" y1="644.2" x2="244.6" y2="636.8"/>
<line class="t" x1="188.9" y1="634.0" x2="194.5" y2="626.6"/>
<line class="t" x1="139.1" y1="623.8" x2="144.8" y2="616.5"/>
<line class="t" x1="125.7" y1="606.9" x2="131.4" y2="599.7"/>
<line class="t" x1="124.0" y1="567.3" x2="129.8" y2="560.1"/>
<line class="t" x1="122.3" y1="527.2" x2="128.1" y2="520.1"/>
<line class="t" x1="120.6" y1="486.6" x2="126.4" y2="479.6"/>
<line class="t" x1="118.8" y1="445.7" x2="124.7" y2="438.7"/>
<line class="t" x1="117.1" y1="404.2" x2="123.0" y2="397.3"/>
<line class="t" x1="115.3" y1="362.3" x2="121.2" y2="355.5"/>
<line class="t" x1="113.5" y1="320.0" x2="119.5" y2="313.2"/>
</g>
<g filter="url(#bt)">
<text transform="translate(636.3,741.5) scale(0.980,1)">0</text>
<text transform="translate(652.6,712.4) scale(0.980,1)">5</text>
<text transform="translate(668.6,684.0) scale(0.980,1)">10</text>
<text transform="translate(684.2,656.1) scale(0.980,1)">15</text>
<text transform="translate(699.5,628.8) scale(0.980,1)">20</text>
<text transform="translate(714.4,602.1) scale(0.980,1)">25</text>
<text transform="translate(729.1,576.0) scale(0.980,1)">30</text>
<text transform="translate(743.4,550.4) scale(0.980,1)">35</text>
<text transform="translate(757.4,525.3) scale(0.980,1)">40</text>
<text transform="translate(542.3,761.3) scale(0.980,1)">350</text>
<text transform="translate(489.5,750.0) scale(0.980,1)">400</text>
<text transform="translate(437.1,738.8) scale(0.980,1)">450</text>
<text transform="translate(385.2,727.7) scale(0.980,1)">500</text>
<text transform="translate(333.6,716.7) scale(0.980,1)">550</text>
<text transform="translate(282.4,705.8) scale(0.980,1)">600</text>
<text transform="translate(231.7,694.9) scale(0.980,1)">650</text>
<text transform="translate(181.3,684.2) scale(0.980,1)">700</text>
<text transform="translate(131.3,673.5) scale(0.980,1)">750</text>
<text transform="translate(87.0,632.8) scale(0.980,1)">300</text>
<text transform="translate(84.8,593.1) scale(0.980,1)">350</text>
<text transform="translate(82.7,553.0) scale(0.980,1)">400</text>
<text transform="translate(80.5,512.5) scale(0.980,1)">450</text>
<text transform="translate(78.3,471.5) scale(0.980,1)">500</text>
<text transform="translate(76.0,430.1) scale(0.980,1)">550</text>
<text transform="translate(73.8,388.2) scale(0.980,1)">600</text>
<text transform="translate(71.5,345.9) scale(0.980,1)">650</text>
<text transform="translate(735.0,646.2) scale(0.980,1)">x</text>
<text transform="translate(333.1,755.3) scale(0.980,1)">y</text>
<text transform="translate(26.5,490.0) scale(0.980,1)">z</text>
</g>
<g filter="url(#ba)">
<polyline class="a" points="884.3,267.1 897.3,588.2 1361.1,682.4 1504.3,437.4"/>
<line class="t" x1="1388.0" y1="651.8" x2="1374.2" y2="649.0"/>
<line class="t" x1="1405.7" y1="621.4" x2="1392.0" y2="618.7"/>
<line class="t" x1="1423.0" y1="591.6" x2="1409.4" y2="589.0"/>
<line class="t" x1="1439.9" y1="562.6" x2="1426.5" y2="560.0"/>
<line class="t" x1="1456.4" y1="534.1" x2="1443.1" y2="531.6"/>
<line class="t" x1="1472.6" y1="506.3" x2="1459.4" y2="503.8"/>
<line class="t" x1="1488.4" y1="479.1" x2="1475.4" y2="476.7"/>
<line class="t" x1="1503.9" y1="452.4" x2="1491.0" y2="450.1"/>
<line class="t" x1="1305.0" y1="676.1" x2="1309.7" y2="668.3"/>
<line class="t" x1="1244.5" y1="663.8" x2="1249.4" y2="656.1"/>
<line class="t" x1="1184.6" y1="651.6" x2="1189.6" y2="644.0"/>
<line class="t" x1="1125.2" y1="639.5" x2="1130.4" y2="632.0"/>
<line class="t" x1="1066.4" y1="627.6" x2="1071.7" y2="620.1"/>
<line class="t" x1="1008.1" y1="615.7" x2="1013.6" y2="608.3"/>
<line class="t" x1="950.4" y1="603.9" x2="955.9" y2="596.6"/>
<line class="t" x1="893.3" y1="575.8" x2="899.0" y2="568.5"/>
<line class="t" x1="891.5" y1="531.6" x2="897.2" y2="524.4"/>
<line class="t" x1="889.6" y1="486.8" x2="895.4" y2="479.7"/>
<line class="t" x1="887.8" y1="441.5" x2="893.6" y2="434.5"/>
<line class="t" x1="885.9" y1="395.7" x2="891.8" y2="388.8"/>
<line class="t" x1="884.0" y1="349.3" x2="889.9" y2="342.5"/>
<line class="t" x1="882.1" y1="302.4" x2="888.1" y2="295.6"/>
</g>
<g filter="url(#bt)">
<text transform="translate(1411.1,695.7) scale(0.980,1)">14</text>
<text transform="translate(1428.5,665.2) scale(0.980,1)">16</text>
<text transform="translate(1445.4,635.5) scale(0.980,1)">18</text>
<text transform="translate(1462.0,606.4) scale(0.980,1)">20</text>
<text transform="translate(1478.2,577.9) scale(0.980,1)">22</text>
<text transform="translate(1494.0,550.1) scale(0.980,1)">24</text>
<text transform="translate(1509.5,522.8) scale(0.980,1)">26</text>
<text transform="translate(1524.7,496.2) scale(0.980,1)">28</text>
<text transform="translate(1298.0,730.3) scale(0.980,1)">500</text>
<text transform="translate(1237.5,717.4) scale(0.980,1)">525</text>
<text transform="translate(1177.5,704.7) scale(0.980,1)">550</text>
<text transform="translate(1118.0,692.0) scale(0.980,1)">575</text>
<text transform="translate(1059.1,679.5) scale(0.980,1)">600</text>
<text transform="translate(1000.7,667.1) scale(0.980,1)">625</text>
<text transform="translate(942.8,654.8) scale(0.980,1)">650</text>
<text transform="translate(854.7,599.3) scale(0.980,1)">280</text>
<text transform="translate(852.1,555.1) scale(0.980,1)">300</text>
<text transform="translate(849.4,510.4) scale(0.980,1)">320</text>
<text transform="translate(846.7,465.2) scale(0.980,1)">340</text>
<text transform="translate(844.0,419.5) scale(0.980,1)">360</text>
<text transform="translate(841.3,373.2) scale(0.980,1)">380</text>
<text transform="translate(838.5,326.3) scale(0.980,1)">400</text>
<text transform="translate(1502.8,617.2) scale(0.980,1)">x</text>
<text transform="translate(1100.6,725.3) scale(0.980,1)">y</text>
<text transform="translate(794.0,461.7) scale(0.980,1)">z</text>
</g>
<g filter="url(#ba)">
<polyline class="a" points="1651.2,261.7 1665.7,607.1 2166.3,709.4 2320.6,444.8"/>
<line class="t" x1="2185.6" y1="693.0" x2="2170.6" y2="690.0"/>
<line class="t" x1="2208.9" y1="652.9" x2="2194.1" y2="649.9"/>
<line class="t" x1="2231.6" y1="613.8" x2="2216.9" y2="610.9"/>
<line class="t" x1="2253.6" y1="575.8" x2="2239.1" y2="573.0"/>
<line class="t" x1="2275.1" y1="538.8" x2="2260.8" y2="536.1"/>
<line class="t" x1="2295.9" y1="502.8" x2="2281.8" y2="500.2"/>
<line class="t" x1="2316.2" y1="467.8" x2="2302.3" y2="465.2"/>
<line class="t" x1="2119.4" y1="705.3" x2="2124.4" y2="696.9"/>
<line class="t" x1="2061.9" y1="693.5" x2="2067.0" y2="685.2"/>
<line class="t" x1="2004.8" y1="681.9" x2="2010.2" y2="673.6"/>
<line class="t" x1="1948.3" y1="670.3" x2="1953.8" y2="662.1"/>
<line class="t" x1="1892.2" y1="658.8" x2="1897.9" y2="650.7"/>
<line class="t" x1="1836.7" y1="647.5" x2="1842.4" y2="639.4"/>
<line class="t" x1="1781.6" y1="636.2" x2="1787.5" y2="628.2"/>
<line class="t" x1="1727.0" y1="625.0" x2="1733.0" y2="617.1"/>
<line class="t" x1="1661.7" y1="601.7" x2="1667.9" y2="593.9"/>
<line class="t" x1="1659.8" y1="557.4" x2="1666.0" y2="549.7"/>
<line class="t" x1="1657.9" y1="512.7" x2="1664.2" y2="505.0"/>
<line class="t" x1="1656.0" y1="467.4" x2="1662.3" y2="459.8"/>
<line class="t" x1="1654.0" y1="421.6" x2="1660.4" y2="414.1"/>
<line class="t" x1="1652.1" y1="375.2" x2="1658.4" y2="367.8"/>
<line class="t" x1="1650.1" y1="328.4" x2="1656.5" y2="321.1"/>
<line class="t" x1="1648.0" y1="281.0" x2="1654.5" y2="273.8"/>
</g>
<g filter="url(#bt)">
<text transform="translate(2212.0,740.5) scale(0.980,1)">0</text>
<text transform="translate(2234.4,700.5) scale(0.980,1)">5</text>
<text transform="translate(2256.2,661.6) scale(0.980,1)">10</text>
<text transform="translate(2277.4,623.8) scale(0.980,1)">15</text>
<text transform="translate(2298.0,587.0) scale(0.980,1)">20</text>
<text transform="translate(2318.0,551.2) scale(0.980,1)">25</text>
<text transform="translate(2337.4,516.4) scale(0.980,1)">30</text>
<text transform="translate(2112.5,762.8) scale(0.980,1)">500</text>
<text transform="translate(2054.5,750.8) scale(0.980,1)">525</text>
<text transform="translate(1996.9,739.0) scale(0.980,1)">550</text>
<text transform="translate(1939.9,727.3) scale(0.980,1)">575</text>
<text transform="translate(1883.3,715.6) scale(0.980,1)">600</text>
<text transform="translate(1827.3,704.1) scale(0.980,1)">625</text>
<text transform="translate(1771.6,692.6) scale(0.980,1)">650</text>
<text transform="translate(1716.5,681.3) scale(0.980,1)">675</text>
<text transform="translate(1620.5,626.3) scale(0.980,1)">750</text>
<text transform="translate(1617.8,582.7) scale(0.980,1)">800</text>
<text transform="translate(1615.0,538.5) scale(0.980,1)">850</text>
<text transform="translate(1612.3,493.9) scale(0.980,1)">900</text>
<text transform="translate(1609.5,448.8) scale(0.980,1)">950</text>
<text transform="translate(1606.7,403.1) scale(0.980,1)">1000</text>
<text transform="translate(1603.9,356.9) scale(0.980,1)">1050</text>
<text transform="translate(1601.0,310.2) scale(0.980,1)">1100</text>
<text transform="translate(2319.1,638.2) scale(0.980,1)">x</text>
<text transform="translate(1884.6,755.1) scale(0.980,1)">y</text>
<text transform="translate(1554.8,470.5) scale(0.980,1)">z</text>
</g>
<g filter="url(#ba)">
<polyline class="a" points="2471.6,266.9 2486.6,608.7 2982.3,710.8 3135.5,447.7"/>
<line class="t" x1="3001.6" y1="694.4" x2="2986.8" y2="691.3"/>
<line class="t" x1="3022.0" y1="659.2" x2="3007.3" y2="656.2"/>
<line class="t" x1="3041.9" y1="624.9" x2="3027.3" y2="622.0"/>
<line class="t" x1="3061.2" y1="591.4" x2="3046.9" y2="588.6"/>
<line class="t" x1="3080.2" y1="558.7" x2="3065.9" y2="555.9"/>
<line class="t" x1="3098.6" y1="526.8" x2="3084.6" y2="524.1"/>
<line class="t" x1="3116.7" y1="495.6" x2="3102.8" y2="493.0"/>
<line class="t" x1="3134.3" y1="465.1" x2="3120.5" y2="462.6"/>
<line class="t" x1="2892.6" y1="697.8" x2="2897.7" y2="689.5"/>
<line class="t" x1="2812.8" y1="681.4" x2="2818.2" y2="673.2"/>
<line class="t" x1="2734.1" y1="665.1" x2="2739.6" y2="657.0"/>
<line class="t" x1="2656.3" y1="649.0" x2="2662.0" y2="641.0"/>
<line class="t" x1="2579.4" y1="633.2" x2="2585.3" y2="625.3"/>
<line class="t" x1="2503.5" y1="617.5" x2="2509.5" y2="609.7"/>
<line class="t" x1="2482.4" y1="599.6" x2="2488.5" y2="591.8"/>
<line class="t" x1="2480.6" y1="558.2" x2="2486.7" y2="550.5"/>
<line class="t" x1="2478.7" y1="516.4" x2="2484.9" y2="508.8"/>
<line class="t" x1="2476.8" y1="474.1" x2="2483.1" y2="466.6"/>
<line class="t" x1="2474.9" y1="431.4" x2="2481.2" y2="424.0"/>
<line class="t" x1="2473.0" y1="388.2" x2="2479.4" y2="380.8"/>
<line class="t" x1="2471.1" y1="344.5" x2="2477.5" y2="337.3"/>
<line class="t" x1="2469.1" y1="300.4" x2="2475.6" y2="293.2"/>
</g>
<g filter="url(#bt)">
<text transform="translate(3028.0,740.9) scale(0.980,1)">5</text>
<text transform="translate(3047.8,705.7) scale(0.980,1)">10</text>
<text transform="translate(3067.1,671.4) scale(0.980,1)">15</text>
<text transform="translate(3085.9,637.9) scale(0.980,1)">20</text>
<text transform="translate(3104.3,605.3) scale(0.980,1)">25</text>
<text transform="translate(3122.2,573.4) scale(0.980,1)">30</text>
<text transform="translate(3139.6,542.2) scale(0.980,1)">35</text>
<text transform="translate(3156.7,511.8) scale(0.980,1)">40</text>
<text transform="translate(2885.2,754.2) scale(0.980,1)">300</text>
<text transform="translate(2805.4,737.5) scale(0.980,1)">350</text>
<text transform="translate(2726.6,721.1) scale(0.980,1)">400</text>
<text transform="translate(2648.7,704.8) scale(0.980,1)">450</text>
<text transform="translate(2571.7,688.8) scale(0.980,1)">500</text>
<text transform="translate(2495.7,672.9) scale(0.980,1)">550</text>
<text transform="translate(2441.0,623.5) scale(0.980,1)">200</text>
<text transform="translate(2439.0,582.4) scale(0.980,1)">250</text>
<text transform="translate(2437.0,540.9) scale(0.980,1)">300</text>
<text transform="translate(2435.0,499.0) scale(0.980,1)">350</text>
<text transform="translate(2433.0,456.6) scale(0.980,1)">400</text>
<text transform="translate(2430.9,413.7) scale(0.980,1)">450</text>
<text transform="translate(2428.8,370.3) scale(0.980,1)">500</text>
<text transform="translate(2426.7,326.5) scale(0.980,1)">550</text>
<text transform="translate(3133.7,640.3) scale(0.980,1)">x</text>
<text transform="translate(2703.7,755.3) scale(0.980,1)">y</text>
<text transform="translate(2376.0,472.9) scale(0.980,1)">z</text>
</g>
</svg></body></html>
